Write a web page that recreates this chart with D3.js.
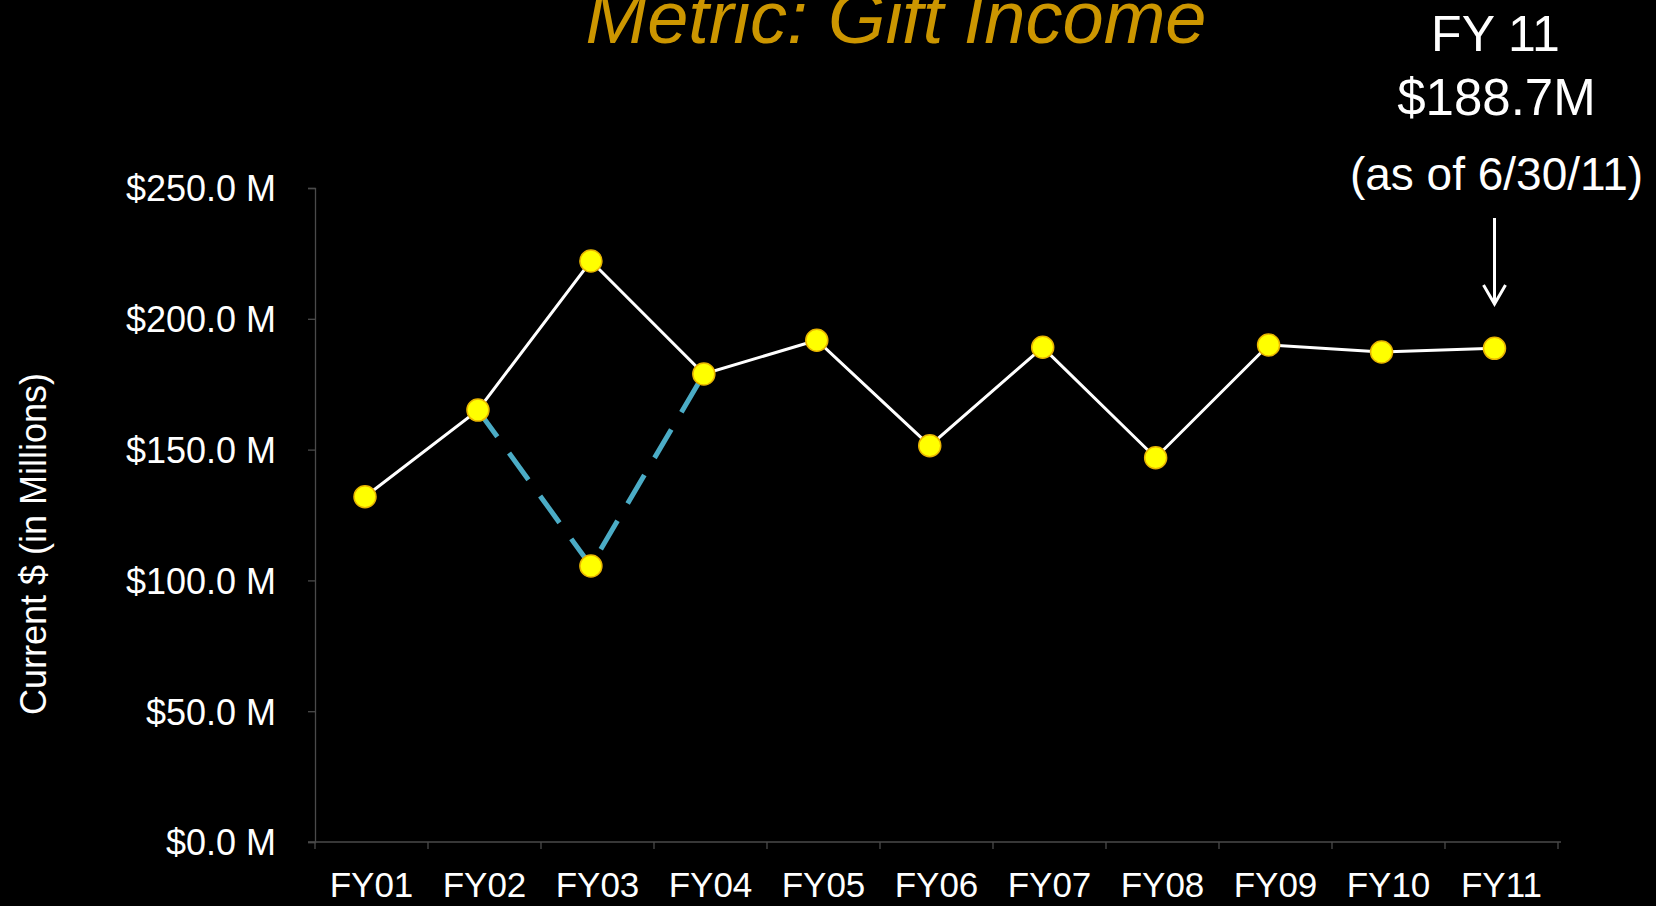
<!DOCTYPE html>
<html>
<head>
<meta charset="utf-8">
<script src="https://cdn.jsdelivr.net/npm/d3@7"></script>
<style>
  html, body { margin: 0; padding: 0; background: #000; }
  svg { display: block; }
  text { font-family: "Liberation Sans", Arial, sans-serif; fill: #fff; }
</style>
</head>
<body>
<svg id="chart" width="1656" height="906"></svg>
<script>
// Gift income by fiscal year, in $ millions
const categories = ["FY01", "FY02", "FY03", "FY04", "FY05", "FY06", "FY07", "FY08", "FY09", "FY10", "FY11"];
const giftIncome = [132.0, 165.1, 222.1, 178.9, 191.8, 151.5, 189.1, 146.9, 190.0, 187.3, 188.7];
// Alternate FY03 figure, joined to its neighbours with a dashed line
const altCategories = ["FY02", "FY03", "FY04"];
const altIncome = [165.1, 105.5, 178.9];
const yTicks = [0, 50, 100, 150, 200, 250];

const svg = d3.select("#chart");

const plotLeft = 315, plotRight = 1558, plotTop = 188, plotBottom = 842;

const xBand = d3.scaleBand().domain(categories).range([plotLeft, plotRight]);
const xPt = d3.scalePoint().domain(categories).range([365, 1494.5]);
const y = d3.scaleLinear().domain([0, 250]).range([plotBottom, plotTop]);

const axisColor = "#4a4a4a";

// Title
svg.append("text")
  .attr("x", 896).attr("y", 43)
  .attr("text-anchor", "middle")
  .style("font-size", "74px")
  .style("font-style", "italic")
  .style("fill", "#cc9600")
  .text("Metric: Gift Income");

// Y axis
const yAxis = svg.append("g")
  .attr("transform", `translate(${plotLeft},0)`)
  .call(d3.axisLeft(y).tickValues(yTicks).tickSize(7).tickPadding(32)
    .tickFormat(d => `$${d.toFixed(1)} M`));
yAxis.select(".domain").attr("stroke", axisColor).attr("stroke-width", 1.3);
yAxis.selectAll(".tick line").attr("stroke", axisColor).attr("stroke-width", 1.3);
yAxis.selectAll(".tick text")
  .attr("dy", "0.36em")
  .style("font-size", "36px")
  .style("fill", "#fff")
  .style("font-family", "'Liberation Sans', Arial, sans-serif");

// X axis: ticks sit on the band edges, labels at band centres
const xAxis = svg.append("g").attr("transform", `translate(0,${plotBottom})`);
xAxis.append("line")
  .attr("x1", plotLeft - 7).attr("x2", plotRight + 3)
  .attr("stroke", axisColor).attr("stroke-width", 1.3);
const edges = categories.map(c => xBand(c)).concat([xBand.range()[1]]);
xAxis.selectAll("line.edge").data(edges).join("line")
  .attr("class", "edge")
  .attr("x1", d => d).attr("x2", d => d)
  .attr("y1", 0).attr("y2", 7)
  .attr("stroke", axisColor).attr("stroke-width", 1.3);
xAxis.selectAll("text.cat").data(categories).join("text")
  .attr("class", "cat")
  .attr("x", d => xBand(d) + xBand.bandwidth() / 2)
  .attr("y", 55)
  .attr("text-anchor", "middle")
  .style("font-size", "35px")
  .text(d => d);

// Y axis title
svg.append("text")
  .attr("transform", "translate(46,544) rotate(-90)")
  .attr("text-anchor", "middle")
  .style("font-size", "36px")
  .text("Current $ (in Millions)");

const line = d3.line().x(d => xPt(d.c)).y(d => y(d.v));

// Dashed alternate path
const altData = altCategories.map((c, i) => ({ c, v: altIncome[i] }));
svg.append("path")
  .datum(altData)
  .attr("d", line)
  .attr("fill", "none")
  .attr("stroke", "#4bacc6")
  .attr("stroke-width", 5)
  .attr("stroke-dasharray", "33,20");

// Main series
const mainData = categories.map((c, i) => ({ c, v: giftIncome[i] }));
svg.append("path")
  .datum(mainData)
  .attr("d", line)
  .attr("fill", "none")
  .attr("stroke", "#fff")
  .attr("stroke-width", 3);

// Markers
const markers = mainData.concat([altData[1]]);
svg.selectAll("circle.pt").data(markers).join("circle")
  .attr("class", "pt")
  .attr("cx", d => xPt(d.c))
  .attr("cy", d => y(d.v))
  .attr("r", 11)
  .attr("fill", "#ffff00")
  .attr("stroke", "#e8b400")
  .attr("stroke-width", 1.5);

// Callout for the latest year
const last = mainData[mainData.length - 1];
const cx = xPt(last.c);
const note = svg.append("g");
note.append("text").attr("x", cx + 1).attr("y", 51)
  .attr("text-anchor", "middle").style("font-size", "50px").text("FY 11");
note.append("text").attr("x", cx + 2).attr("y", 115)
  .attr("text-anchor", "middle").style("font-size", "51px")
  .text(`$${last.v.toFixed(1)}M`);
note.append("text").attr("x", cx + 2).attr("y", 190)
  .attr("text-anchor", "middle").style("font-size", "46px").text("(as of 6/30/11)");
note.append("line")
  .attr("x1", cx).attr("x2", cx).attr("y1", 218).attr("y2", 304)
  .attr("stroke", "#fff").attr("stroke-width", 3);
note.append("path")
  .attr("d", `M${cx - 11},${285} L${cx},${304} L${cx + 11},${285}`)
  .attr("fill", "none").attr("stroke", "#fff").attr("stroke-width", 3);
</script>
</body>
</html>
